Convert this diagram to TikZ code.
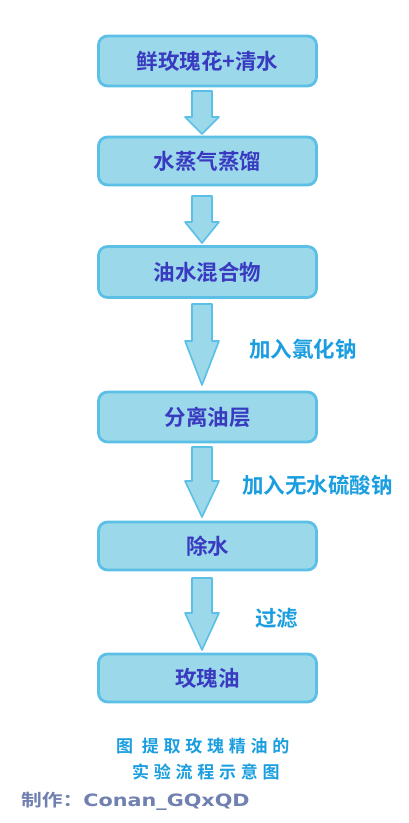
\documentclass[tikz,border=0pt]{standalone}
\usepackage{fontspec}
\setmainfont{Noto Sans CJK SC}
\newfontfamily\cjkb{Noto Sans CJK SC Bold}
\newfontfamily\cjkcap{Noto Sans CJK SC Bold}[LetterSpace=28]
\newfontfamily\latb{DejaVu Sans Bold}
\usetikzlibrary{calc}
\definecolor{boxfill}{HTML}{9AD8EA}
\definecolor{boxline}{HTML}{5BBFE6}
\definecolor{boxtext}{HTML}{3A3AC0}
\definecolor{labtext}{HTML}{1A9EE0}
\definecolor{authtext}{HTML}{7080B0}
\tikzset{
  stepbox/.style={draw=boxline, line width=2.8pt, fill=boxfill, rounded corners=9pt,
    minimum width=218pt, minimum height=48pt, inner sep=0pt,
    font=\cjkb\fontsize{21.5}{24}\selectfont, text=boxtext},
  flowarrow/.style={draw=boxline, line width=1.6pt, fill=boxfill, line join=round},
  sidelabel/.style={font=\cjkb\fontsize{21.5}{24}\selectfont, text=labtext, anchor=west, inner sep=0pt},
  captext/.style={font=\cjkcap\fontsize{17}{20}\selectfont, text=labtext, anchor=west, inner sep=0pt},
}
% #1 top coordinate, #2 tip coordinate, #3 head length
\newcommand{\flowarr}[3]{%
  \draw[flowarrow] ($(#1)+(-10pt,0)$) -- ($(#2)+(-10pt,#3)$) -- ($(#2)+(-17pt,#3)$) -- (#2)
    -- ($(#2)+(17pt,#3)$) -- ($(#2)+(10pt,#3)$) -- ($(#1)+(10pt,0)$) -- cycle;}
\begin{document}
\begin{tikzpicture}[x=1pt,y=1pt]
\useasboundingbox[fill=white] (0,0) rectangle (408,-823);
\node[stepbox, minimum height=50pt] (n1) at (207.5,-61) {鲜玫瑰花+清水};
\node[stepbox] (n2) at (207.5,-161) {水蒸气蒸馏};
\node[stepbox, minimum height=51pt] (n3) at (207.5,-272) {油水混合物};
\node[stepbox, minimum height=50pt] (n4) at (207.5,-417) {分离油层};
\node[stepbox] (n5) at (207.5,-546) {除水};
\node[stepbox] (n6) at (207.5,-678) {玫瑰油};
\coordinate (a1) at (202,-91);  \coordinate (b1) at (202,-134);
\coordinate (a2) at (202,-196); \coordinate (b2) at (202,-243);
\coordinate (a3) at (202,-304); \coordinate (b3) at (202,-385);
\coordinate (a4) at (202,-447); \coordinate (b4) at (202,-517);
\coordinate (a5) at (202,-578); \coordinate (b5) at (202,-650);
\flowarr{a1}{b1}{17pt}
\flowarr{a2}{b2}{21pt}
\flowarr{a3}{b3}{44pt}
\flowarr{a4}{b4}{36pt}
\flowarr{a5}{b5}{37pt}
\node[sidelabel] (l1) at (249,-349) {加入氯化钠};
\node[sidelabel] (l2) at (242,-485) {加入无水硫酸钠};
\node[sidelabel] (l3) at (255,-618) {过滤};
\node[captext] (c1) at (116,-746) {图 提取玫瑰精油的};
\node[captext] (c2) at (132,-772) {实验流程示意图};
\node[text=authtext, anchor=west, inner sep=0pt] (au) at (21,-801)
  {\scalebox{1.22}[1]{\cjkb\fontsize{17}{19}\selectfont 制作：\latb Conan\_GQxQD}};
\end{tikzpicture}
\end{document}
